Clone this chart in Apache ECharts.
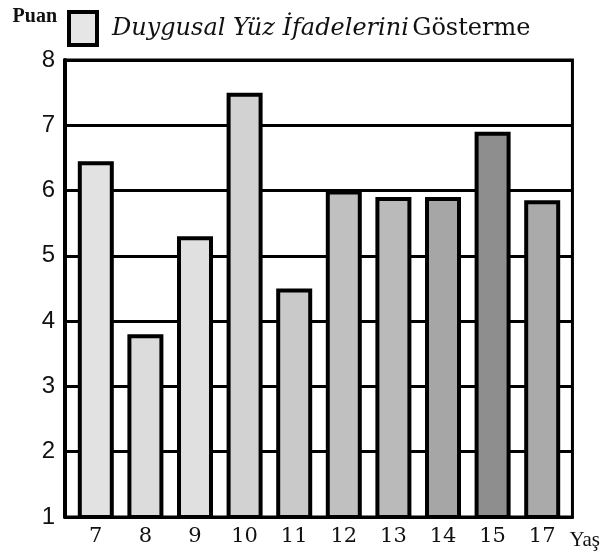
<!DOCTYPE html>
<html>
<head>
<meta charset="utf-8">
<script src="https://cdn.jsdelivr.net/npm/echarts@6/dist/echarts.min.js"></script>
<style>
  html, body { margin: 0; padding: 0; background: #fff; }
  #chart { width: 603px; height: 557px; }
</style>
</head>
<body>
<div id="chart"></div>
<script>
// yaş grupları ve puanlar
const ages = ["7", "8", "9", "10", "11", "12", "13", "14", "15", "17"];
const scores = [6.45, 3.8, 5.3, 7.5, 4.5, 6.0, 5.9, 5.9, 6.9, 5.85];
const yTicks = [1, 2, 3, 4, 5, 6, 7, 8];
// noktalı taramanın yaklaşık gri tonları
const shades = ["#e2e2e2", "#dcdcdc", "#e0e0e0", "#d2d2d2", "#c9c9c9", "#c0c0c0", "#bababa", "#a6a6a6", "#8e8e8e", "#aaaaaa"];

const myChart = echarts.init(document.getElementById("chart"));

myChart.setOption({
  animation: false,
  backgroundColor: "#fff",
  legend: {
    left: 62,
    top: 5,
    itemWidth: 28,
    itemHeight: 33,
    icon: "rect",
    itemStyle: {
      color: "#e6e6e6",
      borderColor: "#000",
      borderWidth: 4,
    },
    formatter: () => "{i|Duygusal Yüz İfadelerini} {r|Gösterme}",
    textStyle: {
      padding: [0, 0, 0, 10],
      rich: {
        i: { fontFamily: "DejaVu Serif", fontStyle: "italic", fontSize: 24, color: "#111" },
        r: { fontFamily: "DejaVu Serif", fontSize: 24, color: "#111" },
      },
    },
  },
  grid: [
    {
      left: 65,
      right: 28,
      top: 60,
      bottom: 40,
      show: true,
      borderColor: "#000",
      borderWidth: 3,
    },
    {
      left: 71,
      right: 36,
      top: 60,
      bottom: 40,
    },
  ],
  xAxis: [
    {
      gridIndex: 0,
      type: "category",
      data: ages,
      axisLabel: { show: false },
      axisTick: { show: false },
      axisLine: { show: true, lineStyle: { color: "#000", width: 3 } },
      name: "Yaş",
      nameLocation: "end",
      nameGap: -3,
      nameTextStyle: {
        fontFamily: "Liberation Serif",
        fontSize: 21,
        color: "#111",
        align: "left",
        verticalAlign: "top",
        padding: [13, 0, 0, 0],
      },
    },
    {
      gridIndex: 1,
      type: "category",
      data: ages,
      axisLine: { show: false },
      axisTick: { show: false },
      axisLabel: {
        fontFamily: "DejaVu Serif",
        fontSize: 21,
        color: "#111",
        margin: 9,
      },
    },
  ],
  yAxis: [
    {
      gridIndex: 0,
      type: "value",
      min: yTicks[0],
      max: yTicks[yTicks.length - 1],
      interval: 1,
      axisLine: { show: true, lineStyle: { color: "#000", width: 4 } },
      axisTick: { show: false },
      axisLabel: {
        fontFamily: "Liberation Sans",
        fontSize: 24,
        color: "#111",
        margin: 10,
      },
      splitLine: { show: true, lineStyle: { color: "#000", width: 3 } },
      name: "Puan",
      nameLocation: "end",
      nameGap: 33,
      nameTextStyle: {
        fontFamily: "Liberation Serif",
        fontWeight: "bold",
        fontSize: 20,
        color: "#111",
        align: "right",
        padding: [0, 8, 0, 0],
      },
    },
    {
      gridIndex: 1,
      type: "value",
      min: yTicks[0],
      max: yTicks[yTicks.length - 1],
      show: false,
    },
  ],
  series: [
    {
      type: "bar",
      name: "Duygusal Yüz İfadelerini Gösterme",
      xAxisIndex: 1,
      yAxisIndex: 1,
      barWidth: 36,
      itemStyle: {
        color: "#e6e6e6",
        borderColor: "#000",
        borderWidth: 4,
      },
      data: scores.map((v, i) => ({ value: v, itemStyle: { color: shades[i] } })),
    },
  ],
});
</script>
</body>
</html>
